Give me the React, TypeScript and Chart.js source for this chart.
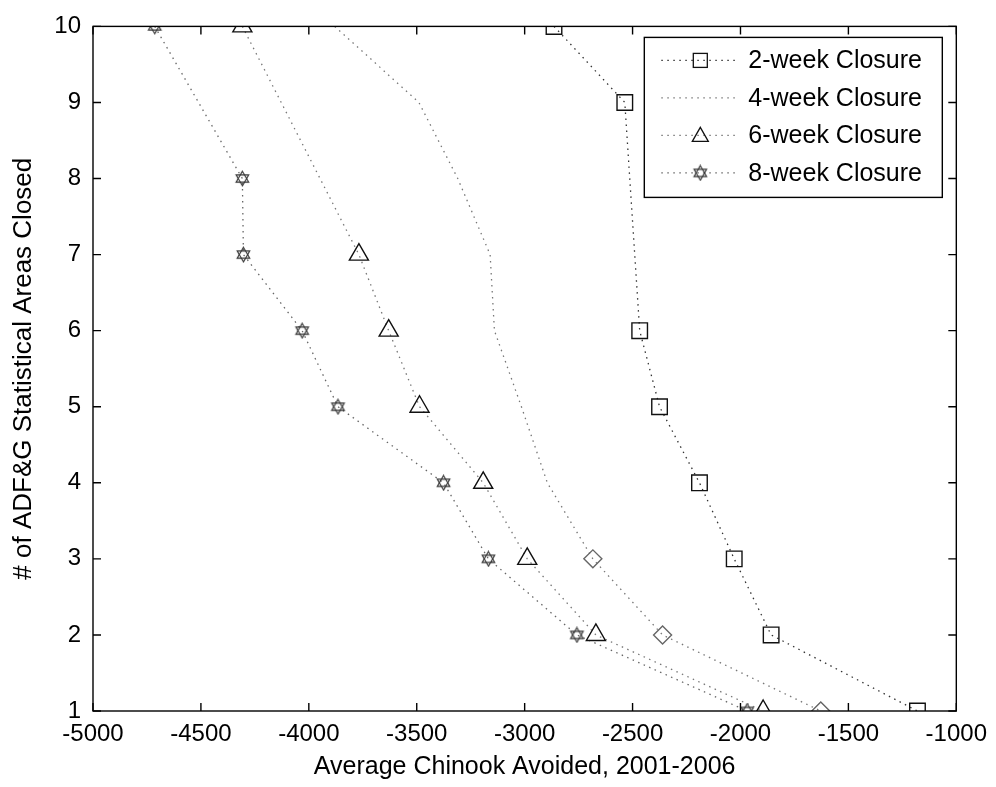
import React, { useEffect, useRef } from "react";
import { Chart, registerables } from "chart.js";

Chart.register(...registerables);

// ---- data ----
const seriesLabels = ["2-week Closure", "4-week Closure", "6-week Closure", "8-week Closure"];

const areas2 = [10, 9, 6, 5, 4, 3, 2, 1];
const chinook2 = [-2864, -2536, -2467, -2375, -2190, -2029, -1858, -1180];

const areas4 = [10, 9, 8, 7, 6, 5, 4, 3, 2, 1];
const chinook4 = [-3880, -3490, -3310, -3160, -3140, -3015, -2895, -2684, -2361, -1628];
const markers4 = [0, 0, 0, 0, 0, 0, 0, 1, 1, 1];

const areas6 = [10, 7, 6, 5, 4, 3, 2, 1];
const chinook6 = [-4308, -3768, -3630, -3487, -3192, -2988, -2670, -1895];

const areas8 = [10, 8, 7, 6, 5, 4, 3, 2, 1];
const chinook8 = [-4714, -4308, -4303, -4031, -3865, -3376, -3168, -2758, -1969];

const xTitle = "Average Chinook Avoided, 2001-2006";
const yTitle = "# of ADF&G Statistical Areas Closed";
const xMin = -5000, xMax = -1000, xStep = 500;
const yMin = 1, yMax = 10, yStep = 1;

const FONT = "'Liberation Sans', Arial, sans-serif";

function zip(xs: number[], ys: number[]) {
  return xs.map((x, i) => ({ x, y: ys[i] }));
}

function makeHexagram(size: number, color: string) {
  const c = document.createElement("canvas");
  c.width = size;
  c.height = size;
  const ctx = c.getContext("2d")!;
  const cx = size / 2, cy = size / 2, r = size / 2 - 1.2;
  ctx.strokeStyle = color;
  ctx.lineWidth = 1.1;
  for (let t = 0; t < 2; t++) {
    ctx.beginPath();
    for (let k = 0; k < 3; k++) {
      const a = -Math.PI / 2 + t * Math.PI + (k * 2 * Math.PI) / 3;
      const px = cx + r * Math.cos(a), py = cy + r * Math.sin(a);
      if (k === 0) ctx.moveTo(px, py); else ctx.lineTo(px, py);
    }
    ctx.closePath();
    ctx.stroke();
  }
  return c;
}

export default function App() {
  const ref = useRef<HTMLCanvasElement | null>(null);

  useEffect(() => {
    document.body.style.margin = "0";
    const hex = makeHexagram(17, "#333");
    const dash = [1.5, 4.5];

    const frameTicks = {
      id: "frameTicks",
      afterDatasetsDraw(chart: any) {
        const { ctx, chartArea: a, scales } = chart;
        const L = 8;
        ctx.save();
        ctx.strokeStyle = "#000";
        ctx.lineWidth = 1.4;
        ctx.strokeRect(a.left, a.top, a.right - a.left, a.bottom - a.top);
        ctx.beginPath();
        scales.x.ticks.forEach((t: any) => {
          const px = scales.x.getPixelForValue(t.value);
          ctx.moveTo(px, a.bottom); ctx.lineTo(px, a.bottom - L);
          ctx.moveTo(px, a.top); ctx.lineTo(px, a.top + L);
        });
        scales.y.ticks.forEach((t: any) => {
          const py = scales.y.getPixelForValue(t.value);
          ctx.moveTo(a.left, py); ctx.lineTo(a.left + L, py);
          ctx.moveTo(a.right, py); ctx.lineTo(a.right - L, py);
        });
        ctx.stroke();
        ctx.restore();
      },
      afterDraw(chart: any) {
        const { ctx, chartArea: a } = chart;
        const w = 298, h = 160;
        const bx = a.right - 14 - w, by = a.top + 11;
        ctx.save();
        ctx.fillStyle = "#fff";
        ctx.fillRect(bx, by, w, h);
        ctx.strokeStyle = "#000";
        ctx.lineWidth = 1.4;
        ctx.strokeRect(bx, by, w, h);
        chart.data.datasets.forEach((ds: any, i: number) => {
          const ry = by + 23 + i * 37.5;
          const x0 = bx + 17, x1 = bx + 95, mx = (x0 + x1) / 2;
          ctx.strokeStyle = ds.borderColor;
          ctx.lineWidth = ds.borderWidth;
          ctx.setLineDash(ds.borderDash);
          ctx.beginPath();
          ctx.moveTo(x0, ry); ctx.lineTo(x1, ry);
          ctx.stroke();
          ctx.setLineDash([]);
          ctx.strokeStyle = ds.pointBorderColor;
          ctx.lineWidth = 1.3;
          if (i === 0) {
            ctx.strokeRect(mx - 7, ry - 7, 14, 14);
          } else if (i === 2) {
            ctx.beginPath();
            ctx.moveTo(mx, ry - 8); ctx.lineTo(mx + 8, ry + 6); ctx.lineTo(mx - 8, ry + 6); ctx.closePath();
            ctx.stroke();
          } else if (i === 3) {
            ctx.drawImage(hex, mx - 8.5, ry - 8.5);
          }
          ctx.fillStyle = "#000";
          ctx.font = `25px ${FONT}`;
          ctx.textBaseline = "middle";
          ctx.textAlign = "left";
          ctx.fillText(ds.label, bx + 104, ry + 1);
        });
        ctx.restore();
      },
    };

    const common = {
      showLine: true,
      borderWidth: 1.3,
      borderDash: dash,
      pointBorderWidth: 1.4,
      pointBackgroundColor: "rgba(0,0,0,0)",
    };

    const chart = new Chart(ref.current!, {
      type: "scatter",
      data: {
        datasets: [
          {
            ...common,
            label: seriesLabels[0],
            data: zip(chinook2, areas2),
            borderColor: "#333",
            pointBorderColor: "#111",
            pointStyle: "rect",
            pointRadius: 11,
          },
          {
            ...common,
            label: seriesLabels[1],
            data: zip(chinook4, areas4),
            borderColor: "#777",
            pointBorderColor: "#666",
            pointStyle: "rectRot",
            pointRadius: markers4.map((m) => (m ? 9 : 0)),
          },
          {
            ...common,
            label: seriesLabels[2],
            data: zip(chinook6, areas6),
            borderColor: "#777",
            pointBorderColor: "#111",
            pointStyle: "triangle",
            pointRadius: 11,
          },
          {
            ...common,
            label: seriesLabels[3],
            data: zip(chinook8, areas8),
            borderColor: "#666",
            pointBorderColor: "#333",
            pointStyle: hex as any,
            pointRadius: 9,
          },
        ] as any,
      },
      options: {
        responsive: false,
        animation: false,
        layout: { padding: { top: 19, right: 36, left: 0, bottom: 0 } },
        plugins: { legend: { display: false }, tooltip: { enabled: false } },
        scales: {
          x: {
            type: "linear",
            min: xMin,
            max: xMax,
            ticks: {
              stepSize: xStep,
              color: "#000",
              font: { family: FONT, size: 24 },
              padding: 9,
              maxRotation: 0,
              callback: (v: any) => String(v),
            },
            grid: { display: false, drawTicks: false },
            border: { display: false },
            title: { display: true, text: xTitle, color: "#000", font: { family: FONT, size: 25 }, padding: { top: 0, bottom: 5 } },
            afterFit: (s: any) => { s.height = 76; },
          },
          y: {
            type: "linear",
            min: yMin,
            max: yMax,
            ticks: { stepSize: yStep, color: "#000", font: { family: FONT, size: 24 }, padding: 12, callback: (v: any) => String(v) },
            grid: { display: false, drawTicks: false },
            border: { display: false },
            title: { display: true, text: yTitle, color: "#000", font: { family: FONT, size: 26 }, padding: { top: 8, bottom: 0 } },
            afterFit: (s: any) => { s.width = 93; },
          },
        },
      } as any,
      plugins: [frameTicks],
    });
    return () => chart.destroy();
  }, []);

  return (
    <div style={{ position: "fixed", left: 0, top: 0, width: 996, height: 787, background: "#fff" }}>
      <canvas ref={ref} width={996} height={787} style={{ display: "block" }} />
    </div>
  );
}
